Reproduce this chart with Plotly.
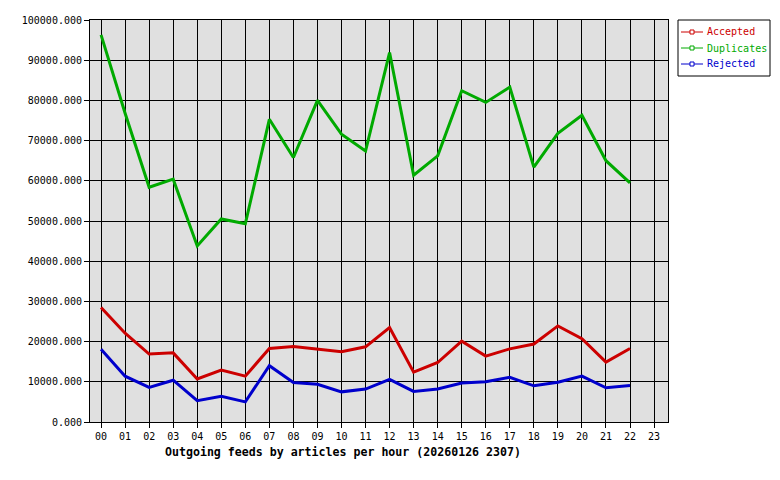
"""Outgoing feeds by articles per hour, redrawn with Plotly."""

import plotly.graph_objects as go

hours = list(range(23))
hour_labels = [f"{h:02d}" for h in range(24)]

accepted = [28500, 22100, 16900, 17200, 10700, 12900, 11400, 18300, 18800, 18200,
            17500, 18700, 23500, 12400, 14800, 20100, 16400, 18200, 19400, 23900,
            20700, 14900, 18300]
duplicates = [96300, 76800, 58400, 60400, 43800, 50500, 49300, 75300, 65800, 80000,
              71600, 67400, 91900, 61400, 66200, 82400, 79500, 83300, 63400, 71800,
              76300, 65000, 59500]
rejected = [18100, 11400, 8600, 10400, 5300, 6400, 5000, 14000, 9800, 9400,
            7500, 8200, 10600, 7600, 8200, 9700, 10000, 11100, 9000, 9900,
            11400, 8500, 9100]

series = [
    ("Accepted", accepted, "#cc0000"),
    ("Duplicates", duplicates, "#00aa00"),
    ("Rejected", rejected, "#0000cc"),
]

FONT = "DejaVu Sans Mono"
W, H = 780, 480
L, R, T, B = 90, 112, 20, 58

fig = go.Figure()
for name, vals, color in series:
    fig.add_trace(go.Scatter(x=hours, y=vals, mode="lines", name=name,
                             line=dict(color=color, width=3), showlegend=False))

# hand-built legend box, positions given in page pixels
pw, ph = W - L - R, H - T - B
def px(x):
    return (x - L) / pw
def py(y):
    return 1 - (y - T) / ph

shapes = [dict(type="rect", xref="paper", yref="paper", x0=px(678), x1=px(770),
               y0=py(76), y1=py(20), line=dict(color="black", width=1),
               fillcolor="white", layer="above")]
annotations = []
for i, (name, _, color) in enumerate(series):
    yy = 32 + i * 16
    shapes.append(dict(type="line", xref="paper", yref="paper", x0=px(681), x1=px(703),
                       y0=py(yy), y1=py(yy), line=dict(color=color, width=1)))
    shapes.append(dict(type="rect", xref="paper", yref="paper", x0=px(690), x1=px(694),
                       y0=py(yy + 2), y1=py(yy - 2), line=dict(color=color, width=1),
                       fillcolor="white"))
    annotations.append(dict(text=name, xref="paper", yref="paper", x=px(705), y=py(yy),
                            xanchor="left", yanchor="middle", showarrow=False,
                            font=dict(family=FONT, size=10, color=color)))

annotations.append(dict(text="<b>Outgoing feeds by articles per hour (20260126 2307)</b>",
                        xref="paper", yref="paper", x=px(343), y=py(452),
                        xanchor="center", yanchor="middle", showarrow=False,
                        font=dict(family=FONT, size=11.6, color="black")))

fig.update_layout(
    width=W, height=H,
    margin=dict(l=L, r=R, t=T, b=B, pad=0),
    paper_bgcolor="white", plot_bgcolor="#e0e0e0",
    font=dict(family=FONT, size=10, color="black"),
    shapes=shapes, annotations=annotations,
    xaxis=dict(range=[-0.46, 23.58], tickvals=list(range(24)), ticktext=hour_labels,
               showgrid=True, gridcolor="black", gridwidth=1, zeroline=False,
               showline=True, linecolor="black", linewidth=1, mirror=True,
               ticks="outside", ticklen=5, tickcolor="black"),
    yaxis=dict(range=[0, 100000], dtick=10000, tickformat=".3f",
               showgrid=True, gridcolor="black", gridwidth=1, zeroline=False,
               showline=True, linecolor="black", linewidth=1, mirror=True,
               ticks="outside", ticklen=5, tickcolor="black"),
)

# drop the default body margin so the chart sits at the page origin
fig.write_html("out.html", config={"displayModeBar": False},
               post_script="document.body.style.margin='0';document.body.style.overflow='hidden';")
